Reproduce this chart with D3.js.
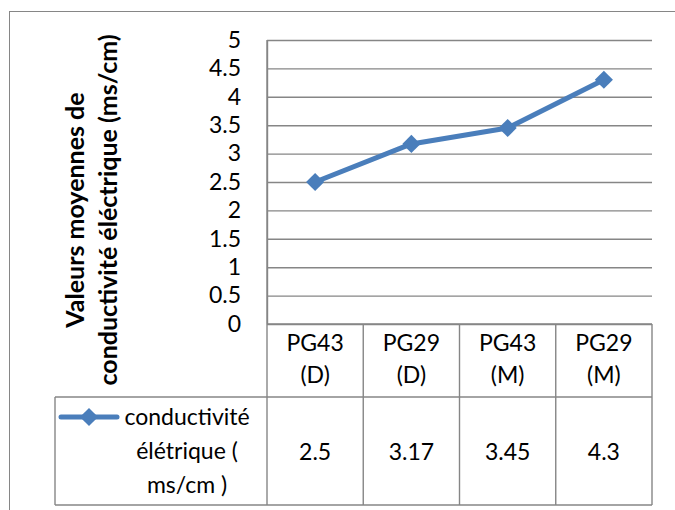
<!DOCTYPE html>
<html>
<head>
<meta charset="utf-8">
<script src="https://cdn.jsdelivr.net/npm/d3@7"></script>
<style>
  body { margin: 0; background: #fff; }
  svg text { font-family: Lato, "Noto Sans", sans-serif; fill: #000; }
</style>
</head>
<body>
<svg id="chart" width="675" height="510"></svg>
<script>
// chart data
var catTop = ['PG43', 'PG29', 'PG43', 'PG29']
var catBottom = ['(D)', '(D)', '(M)', '(M)']
var values = [2.5, 3.17, 3.45, 4.3]
var valueLabels = ['2.5', '3.17', '3.45', '4.3']
var yTicks = [0, 0.5, 1, 1.5, 2, 2.5, 3, 3.5, 4, 4.5, 5]
var seriesName = ['conductivité', 'élétrique (', 'ms/cm )']
var yTitle = ['Valeurs moyennes de', 'conductivité éléctrique (ms/cm)']

var grey = '#868686'
var blue = '#4a7ebb'
var fontSize = 23

// plot area
var margin = {top: 40, left: 267}
var width = 385
var height = 284
var headerH = 73
var rowH = 108
var legendLeft = 55

var svg = d3.select('#chart')

// outer chart border (runs off the right and bottom edges)
svg.append('rect')
    .attr('x', 9.5)
    .attr('y', 11.5)
    .attr('width', 700)
    .attr('height', 600)
    .attr('fill', 'none')
    .attr('stroke', grey)

var g = svg.append('g')
    .attr('transform', 'translate(' + margin.left + ',' + margin.top + ')')

var idx = values.map(function (d, i) { return i })
var x = d3.scaleBand()
    .domain(idx)
    .range([0, width])

var y = d3.scaleLinear()
    .domain([0, 5])
    .range([height, 0])

// gridlines
g.append('g')
    .attr('class', 'grid')
    .call(d3.axisLeft(y).tickValues(yTicks).tickSize(-width).tickFormat(''))
    .call(function (s) { s.select('.domain').remove() })
    .selectAll('line')
    .attr('stroke', grey)
    .attr('stroke-width', 1.4)

// y axis
var yAxis = g.append('g')
    .call(d3.axisLeft(y).tickValues(yTicks).tickSize(0).tickPadding(26)
      .tickFormat(function (d) { return d3.format('')(d) }))
yAxis.select('.domain').attr('stroke', grey).attr('stroke-width', 1.4)
yAxis.selectAll('text')
    .attr('font-size', fontSize)
    .attr('font-family', 'Lato, sans-serif')
    .attr('fill', '#000')

// y axis title
var title = svg.append('text')
    .attr('transform', 'translate(92,210) rotate(-90)')
    .attr('text-anchor', 'middle')
    .attr('font-weight', 'bold')
    .attr('font-size', 25)
title.selectAll('tspan')
    .data(yTitle)
  .enter().append('tspan')
    .attr('x', 0)
    .attr('y', function (d, i) { return (i - 0.5) * 33 })
    .attr('dy', '0.35em')
    .text(function (d) { return d })

// series line
var line = d3.line()
    .x(function (d, i) { return x(i) + x.bandwidth() / 2 })
    .y(function (d) { return y(d) })

g.append('path')
    .datum(values)
    .attr('fill', 'none')
    .attr('stroke', blue)
    .attr('stroke-width', 5)
    .attr('stroke-linejoin', 'round')
    .attr('d', line)

var diamond = d3.symbol().type(d3.symbolDiamond2).size(210)
g.selectAll('.marker')
    .data(values)
  .enter().append('path')
    .attr('class', 'marker')
    .attr('fill', blue)
    .attr('transform', function (d, i) {
      return 'translate(' + (x(i) + x.bandwidth() / 2) + ',' + y(d) + ')'
    })
    .attr('d', diamond)

// data table
var table = g.append('g')
    .attr('transform', 'translate(0,' + height + ')')

var borders = table.append('g')
    .attr('stroke', grey)
    .attr('stroke-width', 1.4)

// horizontal lines
borders.append('line').attr('x1', 0).attr('x2', width).attr('y1', 0).attr('y2', 0)
borders.append('line').attr('x1', legendLeft - margin.left).attr('x2', width)
    .attr('y1', headerH).attr('y2', headerH)
borders.append('line').attr('x1', legendLeft - margin.left).attr('x2', width)
    .attr('y1', headerH + rowH).attr('y2', headerH + rowH)
// vertical lines
borders.selectAll('.vline')
    .data(idx.concat([idx.length]))
  .enter().append('line')
    .attr('x1', function (d) { return d < idx.length ? x(d) : width })
    .attr('x2', function (d) { return d < idx.length ? x(d) : width })
    .attr('y1', function (d) { return d === 0 ? -height : 0 })
    .attr('y2', headerH + rowH)
borders.append('line')
    .attr('x1', legendLeft - margin.left).attr('x2', legendLeft - margin.left)
    .attr('y1', headerH).attr('y2', headerH + rowH)

// header labels
var header = table.selectAll('.head')
    .data(idx)
  .enter().append('text')
    .attr('text-anchor', 'middle')
    .attr('font-size', fontSize)
header.append('tspan')
    .attr('x', function (d) { return x(d) + x.bandwidth() / 2 })
    .attr('y', 19)
    .attr('dy', '0.35em')
    .text(function (d) { return catTop[d] })
header.append('tspan')
    .attr('x', function (d) { return x(d) + x.bandwidth() / 2 })
    .attr('y', 51)
    .attr('dy', '0.35em')
    .text(function (d) { return catBottom[d] })

// values row
table.selectAll('.val')
    .data(idx)
  .enter().append('text')
    .attr('text-anchor', 'middle')
    .attr('font-size', fontSize)
    .attr('x', function (d) { return x(d) + x.bandwidth() / 2 })
    .attr('y', headerH + 55)
    .attr('dy', '0.35em')
    .text(function (d) { return valueLabels[d] })

// legend key
var lx = legendLeft - margin.left
var key = table.append('g')
    .attr('transform', 'translate(0,' + (headerH + 20) + ')')
key.append('line')
    .attr('x1', lx + 6).attr('x2', lx + 62)
    .attr('stroke', blue)
    .attr('stroke-width', 5)
    .attr('stroke-linecap', 'round')
key.append('path')
    .attr('fill', blue)
    .attr('transform', 'translate(' + (lx + 34) + ',0)')
    .attr('d', diamond)

var legendText = table.append('text')
    .attr('text-anchor', 'middle')
    .attr('font-size', fontSize)
legendText.selectAll('tspan')
    .data(seriesName)
  .enter().append('tspan')
    .attr('x', lx + 132)
    .attr('y', function (d, i) { return headerH + 20 + i * 34 })
    .attr('dy', '0.35em')
    .text(function (d) { return d })
</script>
</body>
</html>
